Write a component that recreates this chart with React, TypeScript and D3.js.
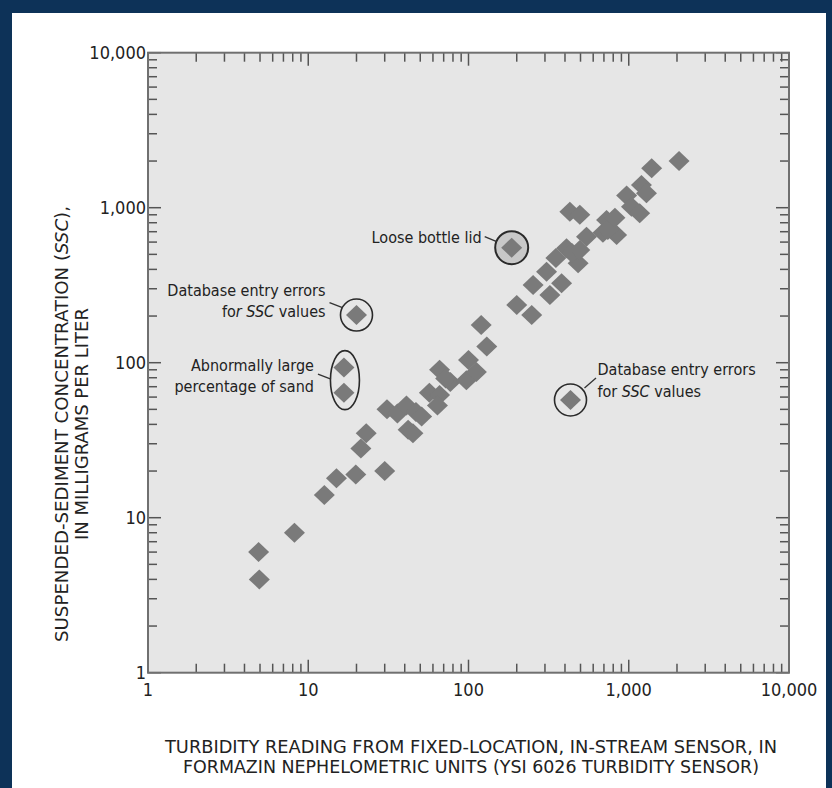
import React from "react";
import * as d3 from "d3";

// ---- data ----
const turbidity = [4.9, 4.95, 8.2, 12.6, 15, 19.8, 21.3, 23, 30, 31, 36, 41, 47, 57, 66, 64, 51, 42, 45, 77, 97, 66, 72, 112, 100, 130, 120, 200, 248, 253, 307, 322, 381, 409, 483, 442, 545, 429, 495, 690, 727, 840, 970, 1040, 1170, 1200, 1290, 1390, 2060, 740, 820, 495, 351];
const ssc = [6.0, 4.0, 8.0, 14, 18, 19, 28, 35, 20, 50, 47, 53, 48, 64, 62, 53, 45, 37, 35, 75, 77, 90, 79, 87, 104, 127, 175, 236, 203, 317, 386, 273, 325, 547, 438, 510, 650, 940, 900, 690, 833, 667, 1200, 1015, 920, 1400, 1240, 1800, 2000, 718, 860, 533, 474];

const sandTurbidity = [16.7, 16.7];
const sandSsc = [93, 64];
const dbLeft = { x: 20, y: 203 };
const dbRight = { x: 433, y: 57.5 };
const lid = { x: 186, y: 552 };

const decadeTicks = [1, 10, 100, 1000, 10000];
const tickLabels = ["1", "10", "100", "1,000", "10,000"];

const FONT = "'Liberation Sans Narrow', 'DejaVu Sans Condensed', 'Roboto Condensed', 'Liberation Sans', Arial, sans-serif";

export default function App() {
  const W = 832, H = 788;
  const x0 = 148, x1 = 789, yTop = 52.7, yBot = 672.7;
  const x = d3.scaleLog().domain([1, 10000]).range([x0, x1]);
  const y = d3.scaleLog().domain([1, 10000]).range([yBot, yTop]);

  const minor: number[] = [];
  for (let d = 1; d < 10000; d *= 10) for (let k = 2; k <= 9; k++) minor.push(d * k);

  const majorLen = 13, minorLen = 9;
  const tickColor = "#555";
  const diamond = (cx: number, cy: number, key: string, fill = "#7a7a7a") => (
    <path key={key} d={`M${cx},${cy - 10} L${cx + 10.5},${cy} L${cx},${cy + 10} L${cx - 10.5},${cy} Z`} fill={fill} />
  );

  const annoSize = 16;
  const txt = { fontFamily: FONT, fontSize: annoSize, fill: "#222" } as const;

  return (
    <svg width={W} height={H} style={{ position: "absolute", left: 0, top: 0 }} xmlns="http://www.w3.org/2000/svg">
      <rect x={0} y={0} width={W} height={H} fill="#0d3258" />
      <rect x={12} y={13} width={814} height={H - 13} fill="#ffffff" />
      {/* plot area */}
      <rect x={x0} y={yTop} width={x1 - x0} height={yBot - yTop} fill="#e6e6e6" />

      {/* ticks */}
      <g stroke={tickColor} strokeWidth={1.5}>
        {minor.map((v) => (
          <g key={"mx" + v}>
            <line x1={x(v)} x2={x(v)} y1={yBot} y2={yBot - minorLen} />
            <line x1={x(v)} x2={x(v)} y1={yTop} y2={yTop + minorLen} />
            <line y1={y(v)} y2={y(v)} x1={x0} x2={x0 + minorLen} />
            <line y1={y(v)} y2={y(v)} x1={x1} x2={x1 - minorLen} />
          </g>
        ))}
        {decadeTicks.map((v) => (
          <g key={"Mx" + v}>
            <line x1={x(v)} x2={x(v)} y1={yBot} y2={yBot - majorLen} />
            <line x1={x(v)} x2={x(v)} y1={yTop} y2={yTop + majorLen} />
            <line y1={y(v)} y2={y(v)} x1={x0} x2={x0 + majorLen} />
            <line y1={y(v)} y2={y(v)} x1={x1} x2={x1 - majorLen} />
          </g>
        ))}
      </g>
      <rect x={x0} y={yTop} width={x1 - x0} height={yBot - yTop} fill="none" stroke="#707070" strokeWidth={2} />

      {/* tick labels */}
      <g fontFamily={FONT} fontSize={18} fill="#222">
        {decadeTicks.map((v, i) => (
          <text key={"xl" + v} x={x(v)} y={696} textAnchor="middle">{tickLabels[i]}</text>
        ))}
        {decadeTicks.map((v, i) => (
          <text key={"yl" + v} x={x0 - 2} y={y(v) + 6.5} textAnchor="end">{tickLabels[i]}</text>
        ))}
      </g>

      {/* data points */}
      <g>
        {turbidity.map((t, i) => diamond(x(t), y(ssc[i]), "p" + i))}
      </g>

      {/* loose bottle lid */}
      <circle cx={x(lid.x)} cy={y(lid.y)} r={16.5} fill="#c8c8c8" stroke="#2a2a2a" strokeWidth={2} />
      {diamond(x(lid.x), y(lid.y), "lid")}
      <line x1={x(lid.x) - 27} y1={y(lid.y) - 11} x2={x(lid.x) - 15} y2={y(lid.y) - 6} stroke="#333" strokeWidth={1.3} />
      <text {...txt} x={x(lid.x) - 30} y={y(lid.y) - 4.5} textAnchor="end">Loose bottle lid</text>

      {/* db error left */}
      {diamond(x(dbLeft.x), y(dbLeft.y), "dbl")}
      <circle cx={x(dbLeft.x)} cy={y(dbLeft.y)} r={16} fill="none" stroke="#2a2a2a" strokeWidth={1.6} />
      <line x1={x(dbLeft.x) - 27} y1={y(dbLeft.y) - 12.5} x2={x(dbLeft.x) - 14} y2={y(dbLeft.y) - 7.5} stroke="#333" strokeWidth={1.3} />
      <text {...txt} x={x(dbLeft.x) - 31} y={y(dbLeft.y) - 19.5} textAnchor="end">Database entry errors</text>
      <text {...txt} x={x(dbLeft.x) - 31} y={y(dbLeft.y) + 1.5} textAnchor="end">
        fo<tspan fontStyle="italic">r SSC</tspan> values
      </text>

      {/* abnormal sand */}
      {sandTurbidity.map((t, i) => diamond(x(t), y(sandSsc[i]), "s" + i))}
      <ellipse cx={x(16.7) + 1} cy={(y(sandSsc[0]) + y(sandSsc[1])) / 2} rx={14.5} ry={29.5} fill="none" stroke="#2a2a2a" strokeWidth={1.6} />
      <line x1={x(16.7) - 26} y1={y(sandSsc[0]) + 6.5} x2={x(16.7) - 13} y2={y(sandSsc[0]) + 11.5} stroke="#333" strokeWidth={1.3} />
      <text {...txt} x={x(16.7) - 30} y={y(sandSsc[0]) + 3} textAnchor="end">Abnormally large</text>
      <text {...txt} x={x(16.7) - 30} y={y(sandSsc[0]) + 24.5} textAnchor="end">percentage of sand</text>

      {/* db error right */}
      {diamond(x(dbRight.x), y(dbRight.y), "dbr")}
      <circle cx={x(dbRight.x)} cy={y(dbRight.y)} r={16} fill="none" stroke="#2a2a2a" strokeWidth={1.6} />
      <line x1={x(dbRight.x) + 14} y1={y(dbRight.y) - 12} x2={x(dbRight.x) + 25.5} y2={y(dbRight.y) - 22} stroke="#333" strokeWidth={1.3} />
      <text {...txt} x={x(dbRight.x) + 27} y={y(dbRight.y) - 24.5}>Database entry errors</text>
      <text {...txt} x={x(dbRight.x) + 27} y={y(dbRight.y) - 3}>
        for <tspan fontStyle="italic">SSC</tspan> values
      </text>

      {/* axis titles */}
      <g fontFamily={FONT} fontSize={18.5} fill="#222" textAnchor="middle">
        <text x={471} y={753} textLength={612} lengthAdjust="spacingAndGlyphs">TURBIDITY READING FROM FIXED-LOCATION, IN-STREAM SENSOR, IN</text>
        <text x={471} y={773} textLength={576} lengthAdjust="spacingAndGlyphs">FORMAZIN NEPHELOMETRIC UNITS (YSI 6026 TURBIDITY SENSOR)</text>
        <g transform={`translate(68, 424) rotate(-90)`}>
          <text x={0} y={0} textLength={436} lengthAdjust="spacingAndGlyphs">SUSPENDED-SEDIMENT CONCENTRATION (<tspan fontStyle="italic">SSC</tspan>),</text>
          <text x={0} y={20} textLength={232} lengthAdjust="spacingAndGlyphs">IN MILLIGRAMS PER LITER</text>
        </g>
      </g>
    </svg>
  );
}
